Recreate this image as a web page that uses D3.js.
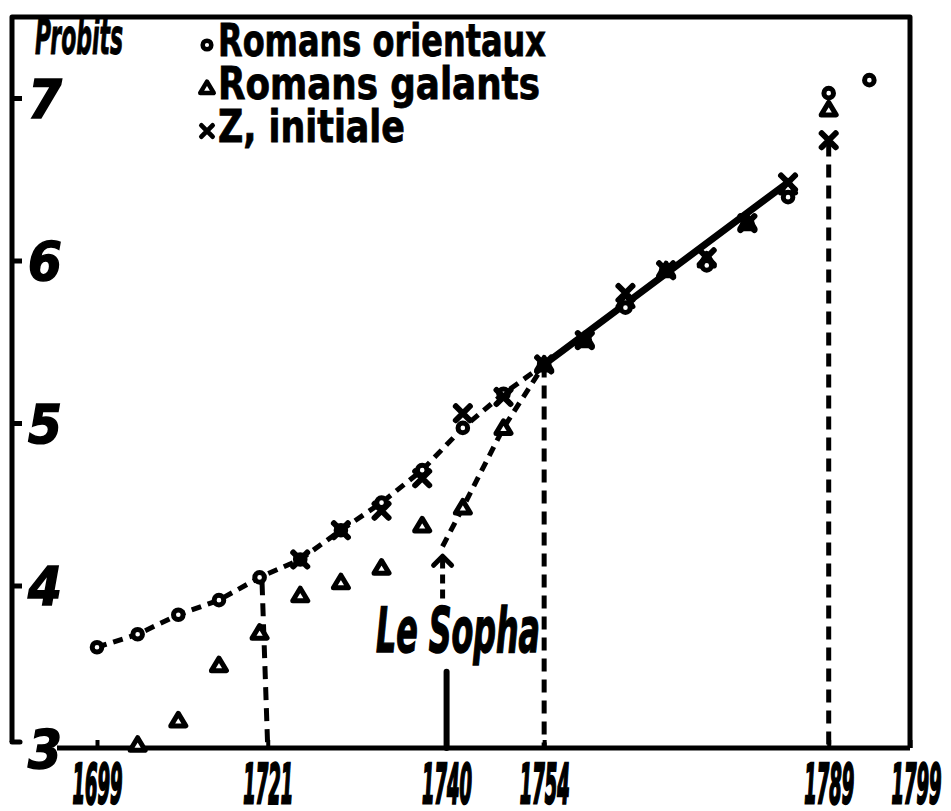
<!DOCTYPE html>
<meta charset="utf-8">
<style>
    body {
        margin: 0;
        background: #fff;
    }

    svg text {
        font-family: 'Liberation Sans Narrow', 'DejaVu Sans Condensed', sans-serif;
        fill: #000;
    }

    .axis .domain {
        display: none;
    }
</style>
<svg width="951" height="811"></svg>
<script src="https://d3js.org/d3.v7.min.js"></script>
<script>
    // Romans orientaux (circles)
    var orientYears = [1699, 1704, 1709, 1714, 1719, 1724, 1729, 1734, 1739, 1744, 1749, 1754,
        1759, 1764, 1769, 1774, 1779, 1784, 1789, 1794];
    var orientVals = [3.62, 3.70, 3.82, 3.91, 4.05, 4.16, 4.34, 4.51, 4.71, 4.97, 5.18, 5.36,
        5.51, 5.71, 5.94, 5.97, 6.23, 6.39, 7.03, 7.11];

    // Romans galants (triangles)
    var galantYears = [1704, 1709, 1714, 1719, 1724, 1729, 1734, 1739, 1744, 1749, 1754,
        1759, 1764, 1769, 1774, 1779, 1784, 1789];
    var galantVals = [3.02, 3.17, 3.51, 3.71, 3.94, 4.02, 4.11, 4.37, 4.48, 4.97, 5.36,
        5.51, 5.75, 5.94, 6.00, 6.23, 6.45, 6.93];

    // Z, initiale (crosses)
    var zYears = [1724, 1729, 1734, 1739, 1744, 1749, 1754, 1759, 1764, 1769, 1774, 1779, 1784, 1789];
    var zVals = [4.16, 4.34, 4.46, 4.66, 5.06, 5.16, 5.36, 5.51, 5.80, 5.94, 6.02, 6.23, 6.48, 6.74];

    // straight line drawn after 1754
    var fitYears = [1754, 1784];
    var fitVals = [5.36, 6.48];

    // x axis: label text and the year where it is written on the axis
    var xTickLabels = ["1699", "1721", "1740", "1754", "1789", "1799"];
    var xTickYears = [1699, 1720, 1742, 1754, 1789, 1799];
    var yTicks = [3, 4, 5, 6, 7];

    // vertical dashed drop lines: bottom year, top year, top value
    var dropYears = [1720, 1754, 1789];
    var dropTopYears = [1719.3, 1754, 1789];
    var dropTops = [4.02, 5.36, 6.72];
    var sophaYear = 1742;
    var sophaStem = [3.0, 3.47];     // solid stem
    var sophaArrow = [3.92, 4.18];   // dashed arrow up
    var sophaStart = 4.24;           // start of dashed line to the galants

    var svg = d3.select("svg");

    var x = d3.scaleLinear().domain([1699, 1799]).range([97, 910]);
    var y = d3.scaleLinear().domain([3, 7]).range([748, 98]);

    var ink = "#000";
    var g = svg.append("g");

    // squeeze a text horizontally to a given width (hand lettering is very narrow)
    function fit(sel, w) {
        sel.each(function () {
            var t = d3.select(this);
            var tx = +t.attr("x") || 0, ty = +t.attr("y") || 0;
            var len = this.getComputedTextLength();
            var s = len > 0 ? w / len : 1;
            t.attr("x", 0).attr("y", 0)
                .attr("transform", "translate(" + tx + "," + ty + ") scale(" + s + ",1)");
        });
    }

    // frame
    var frameL = 12, frameT = 17;
    g.append("path")
        .attr("d", "M" + frameL + "," + (y(3) - 6) + "L" + frameL + "," + frameT +
            "L" + x(1799) + "," + frameT + "L" + x(1799) + "," + y(3))
        .attr("fill", "none").attr("stroke", ink).attr("stroke-width", 5).attr("stroke-linejoin", "round");
    g.append("line")
        .attr("x1", frameL).attr("x2", frameL + 8).attr("y1", y(3) - 6).attr("y2", y(3) - 6)
        .attr("stroke", ink).attr("stroke-width", 5).attr("stroke-linecap", "round");
    g.append("line")
        .attr("x1", 57).attr("x2", x(1799)).attr("y1", y(3)).attr("y2", y(3))
        .attr("stroke", ink).attr("stroke-width", 5);

    // y axis, ticks pointing inward
    var yAxis = g.append("g")
        .attr("class", "axis")
        .attr("transform", "translate(" + frameL + ",0)")
        .call(d3.axisRight(y).tickValues(yTicks).tickSize(10).tickPadding(6).tickFormat(d3.format("d")));
    yAxis.selectAll(".tick line").attr("stroke", ink).attr("stroke-width", 5)
        .style("display", function (d) { return d === 3 ? "none" : null; });
    yAxis.selectAll(".tick text")
        .attr("font-size", 54).attr("font-style", "italic").attr("font-weight", "bold")
        .attr("stroke", ink).attr("stroke-width", 1.5)
        .attr("dy", "0.36em");

    // x axis
    var xAxis = g.append("g")
        .attr("class", "axis")
        .attr("transform", "translate(0," + y(3) + ")")
        .call(d3.axisBottom(x).tickValues(xTickYears)
            .tickFormat(function (d, i) { return xTickLabels[i]; })
            .tickSizeInner(-8).tickSizeOuter(0).tickPadding(16));
    xAxis.selectAll(".tick line").attr("stroke", ink).attr("stroke-width", 4);
    xAxis.selectAll(".tick text")
        .attr("font-size", 55).attr("font-style", "italic").attr("font-weight", "bold")
        .attr("stroke", ink).attr("stroke-width", 2.5)
        .each(function (d) {
            var t = d3.select(this);
            var len = this.getComputedTextLength();
            t.attr("transform", "translate(" + (d === 1799 ? 6 : 0) + ",0) scale(" + (50 / len) + ",1)");
        });

    // vertical dashed drop lines
    dropYears.forEach(function (yr, i) {
        g.append("line")
            .attr("x1", x(dropTopYears[i])).attr("x2", x(yr))
            .attr("y1", y(dropTops[i])).attr("y2", y(3))
            .attr("stroke", ink).attr("stroke-width", 5)
            .attr("stroke-dasharray", "13,8");
    });

    // Le Sopha: solid stem, dashed arrow and label
    g.append("line")
        .attr("x1", x(sophaYear)).attr("x2", x(sophaYear))
        .attr("y1", y(sophaStem[1])).attr("y2", y(sophaStem[0]))
        .attr("stroke", ink).attr("stroke-width", 6).attr("stroke-linecap", "round");
    g.append("line")
        .attr("x1", x(sophaYear) - 4).attr("x2", x(sophaYear) - 4)
        .attr("y1", y(sophaArrow[0])).attr("y2", y(sophaArrow[1]))
        .attr("stroke", ink).attr("stroke-width", 5).attr("stroke-dasharray", "9,6");
    g.append("path")
        .attr("d", "M" + (x(sophaYear) - 13) + "," + (y(sophaArrow[1]) + 9) +
            "L" + (x(sophaYear) - 4) + "," + y(sophaArrow[1]) +
            "L" + (x(sophaYear) + 5) + "," + (y(sophaArrow[1]) + 9))
        .attr("fill", "none").attr("stroke", ink).attr("stroke-width", 5)
        .attr("stroke-linecap", "round").attr("stroke-linejoin", "round");
    g.append("text")
        .attr("x", 376).attr("y", 652)
        .attr("font-size", 62).attr("font-style", "italic").attr("font-weight", "bold")
        .attr("stroke", ink).attr("stroke-width", 1.5)
        .text("Le Sopha")
        .call(fit, 164);

    var line = d3.line()
        .x(function (d) { return x(d[0]); })
        .y(function (d) { return y(d[1]); });

    // dashed curve through the Romans orientaux up to 1754
    var orientPts = orientYears.map(function (yr, i) { return [yr, orientVals[i]]; })
        .filter(function (d) { return d[0] <= 1754; });
    g.append("path")
        .attr("d", line(orientPts))
        .attr("fill", "none").attr("stroke", ink).attr("stroke-width", 5)
        .attr("stroke-dasharray", "10,7");

    // dashed line from Le Sopha through the galants to 1754
    var sophaPts = [[sophaYear - 0.5, sophaStart]].concat(
        galantYears.map(function (yr, i) { return [yr, galantVals[i]]; })
            .filter(function (d) { return d[0] >= 1744 && d[0] <= 1754; }));
    g.append("path")
        .attr("d", line(sophaPts))
        .attr("fill", "none").attr("stroke", ink).attr("stroke-width", 5)
        .attr("stroke-dasharray", "10,7");

    // solid straight line after 1754
    g.append("path")
        .attr("d", line(fitYears.map(function (yr, i) { return [yr, fitVals[i]]; })))
        .attr("fill", "none").attr("stroke", ink).attr("stroke-width", 7)
        .attr("stroke-linecap", "round");

    // marker shapes
    var triPath = "M0,-7L7.5,5.5L-7.5,5.5Z";
    var xPath = "M-7,-7L7,7M-7,7L7,-7";

    function drawTri(sel) {
        sel.append("path").attr("d", triPath)
            .attr("fill", "#fff").attr("stroke", ink).attr("stroke-width", 5)
            .attr("stroke-linejoin", "round");
    }

    function drawCirc(sel) {
        sel.append("circle").attr("r", 4.8)
            .attr("fill", "#fff").attr("stroke", ink).attr("stroke-width", 5);
    }

    function drawX(sel) {
        sel.append("path").attr("d", xPath)
            .attr("fill", "none").attr("stroke", ink).attr("stroke-width", 6)
            .attr("stroke-linecap", "round");
    }

    g.append("g").selectAll("g")
        .data(galantYears.map(function (yr, i) { return [yr, galantVals[i]]; }))
        .enter().append("g")
        .attr("transform", function (d) { return "translate(" + x(d[0]) + "," + y(d[1]) + ")"; })
        .call(drawTri);

    g.append("g").selectAll("g")
        .data(orientYears.map(function (yr, i) { return [yr, orientVals[i]]; }))
        .enter().append("g")
        .attr("transform", function (d) { return "translate(" + x(d[0]) + "," + y(d[1]) + ")"; })
        .call(drawCirc);

    g.append("g").selectAll("g")
        .data(zYears.map(function (yr, i) { return [yr, zVals[i]]; }))
        .enter().append("g")
        .attr("transform", function (d) { return "translate(" + x(d[0]) + "," + y(d[1]) + ")"; })
        .call(drawX);

    // title and legend
    g.append("text")
        .attr("x", 35).attr("y", 54)
        .attr("font-size", 50).attr("font-style", "italic").attr("font-weight", "bold")
        .attr("stroke", ink).attr("stroke-width", 1)
        .text("Probits")
        .call(fit, 88);

    var legendNames = ["Romans orientaux", "Romans galants", "Z, initiale"];
    var legendWidths = [328, 322, 187];
    var legendDraw = [drawCirc, drawTri, drawX];

    var legend = g.append("g").selectAll("g")
        .data(legendNames)
        .enter().append("g")
        .attr("transform", function (d, i) { return "translate(0," + (56 + i * 43) + ")"; });

    legend.each(function (d, i) {
        var item = d3.select(this);
        item.append("g")
            .attr("transform", "translate(207,-11) scale(" + (i === 2 ? 0.8 : 0.9) + ")")
            .call(legendDraw[i]);
        item.append("text")
            .attr("x", 218).attr("y", 0)
            .attr("font-size", 44).attr("font-weight", "bold")
            .attr("stroke", ink).attr("stroke-width", 0.8)
            .text(d)
            .call(fit, legendWidths[i]);
    });
</script>
